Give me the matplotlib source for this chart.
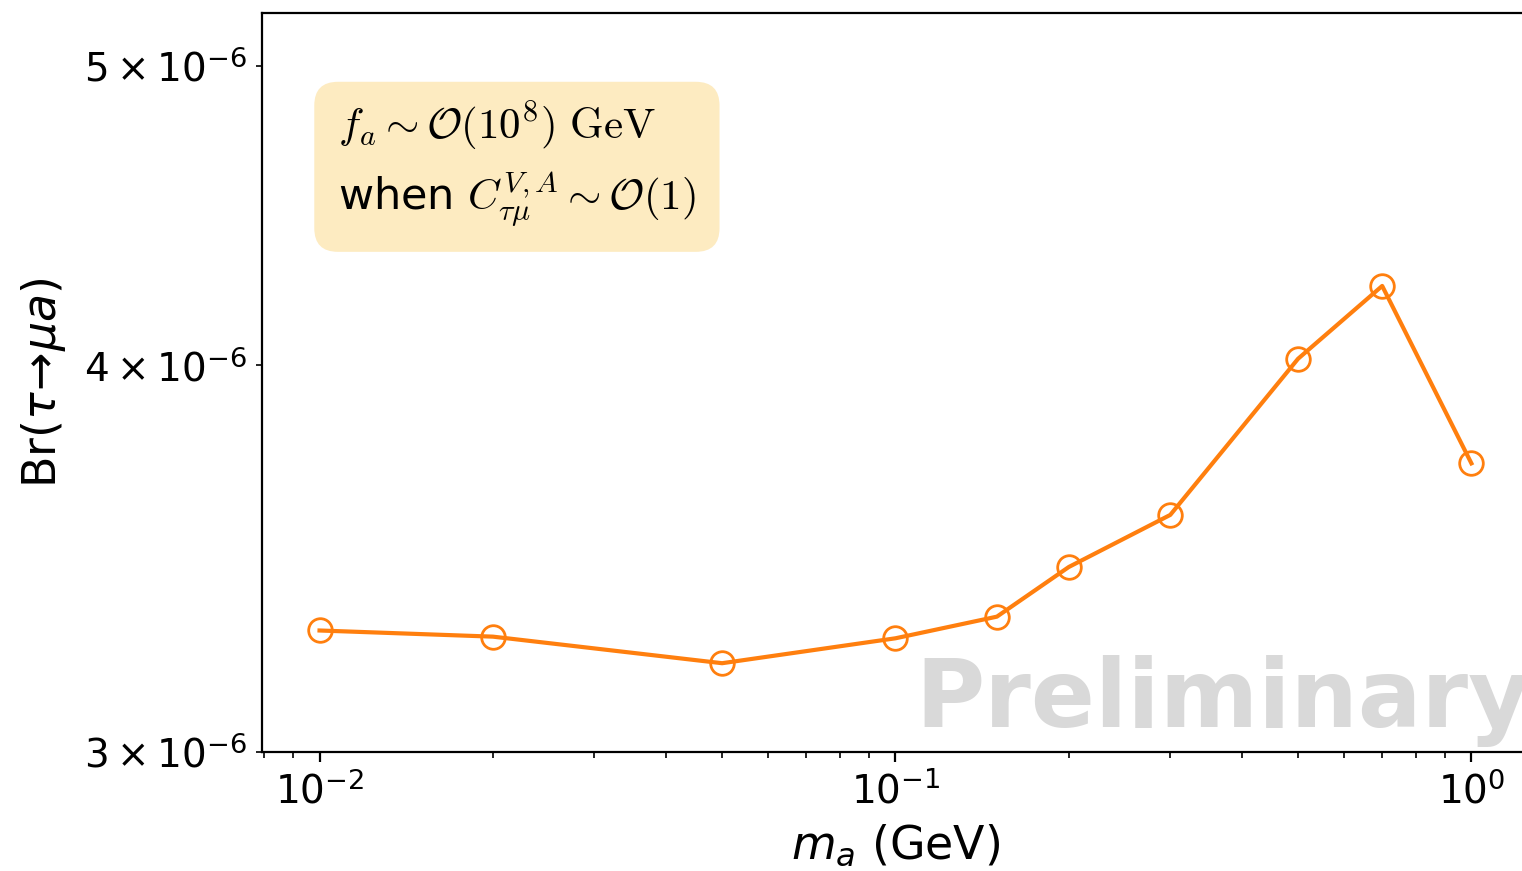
import matplotlib
matplotlib.use("Agg")
import matplotlib.pyplot as plt

# massa do axion (GeV) e razao de ramificacao correspondente
m_a = [0.01, 0.02, 0.05, 0.1, 0.15, 0.2, 0.3, 0.5, 0.7, 1.0]
br_tau_mu_a = [3.284e-6, 3.269e-6, 3.205e-6, 3.265e-6, 3.318e-6,
               3.443e-6, 3.579e-6, 4.020e-6, 4.244e-6, 3.719e-6]

fig = plt.figure(figsize=(7.61, 4.355), dpi=200)
# o eixo passa um pouco da borda direita da figura
ax = fig.add_axes([0.1721, 0.1366, 0.8325, 0.8485])

ax.plot(m_a, br_tau_mu_a, color="tab:orange", lw=1.5, marker="o",
        markersize=8.5, markerfacecolor="none", markeredgewidth=1.0)

ax.set_xscale("log")
ax.set_yscale("log")
ax.set_ylim(3e-6, 5.2e-6)

ax.tick_params(axis="both", which="both", labelsize=14)
ax.set_xlabel(r"$m_a$ (GeV)", fontsize=16.5, labelpad=4)
ax.set_ylabel(r"Br($\tau\!\rightarrow\!\mu a$)", fontsize=16.5, labelpad=6)

# caixa com a escala de f_a
ax.text(0.06, 0.882,
        r"$f_a \sim \mathcal{O}(10^8)~\mathrm{GeV}$" + "\n"
        + r"when $C^{V,A}_{\tau\mu} \sim \mathcal{O}(1)$",
        transform=ax.transAxes, va="top", ha="left", fontsize=15.5,
        math_fontfamily="cm", linespacing=1.4,
        bbox=dict(boxstyle="round,pad=0.55", fc="#fdebc1", ec="none"))

# marca d'agua
ax.text(0.516, 0.034, "Preliminary", transform=ax.transAxes,
        fontsize=34, fontweight="bold", color="#d9d9d9",
        ha="left", va="baseline", zorder=0)

fig.savefig("out.png", dpi=200)
